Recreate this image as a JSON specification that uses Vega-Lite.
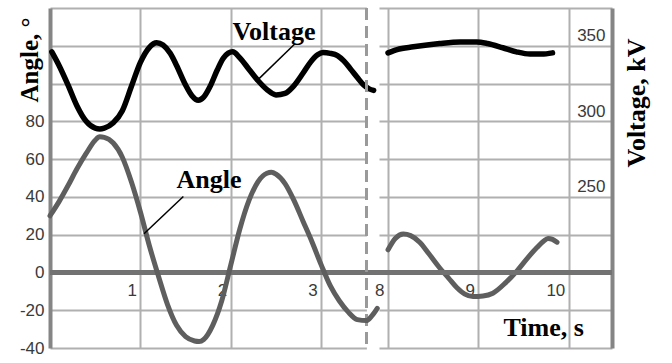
{
  "$schema": "https://vega.github.io/schema/vega-lite/v6.json",
  "width": 562,
  "height": 340,
  "autosize": "none",
  "padding": {"left": 50, "top": 8, "right": 60, "bottom": 15},
  "background": "white",
  "config": {
    "view": {"stroke": null},
    "axis": {
      "labelFont": "Liberation Sans", "labelFontSize": 17, "labelColor": "#3a3a3a",
      "titleFont": "Liberation Serif", "titleFontWeight": "bold", "titleFontSize": 25, "titleColor": "#000000",
      "tickSize": 0, "ticks": false, "gridColor": "#b0b0b0", "gridWidth": 2, "gridOpacity": 1,
      "domainColor": "#858585", "domainWidth": 4, "labelFlush": false, "labelOverlap": false
    }
  },
  "datasets": {
    "angleL": [
      {"t": 0.0, "angle": 30}, {"t": 0.1, "angle": 37.5}, {"t": 0.2, "angle": 46}, {"t": 0.3, "angle": 55},
      {"t": 0.4, "angle": 63}, {"t": 0.5, "angle": 70}, {"t": 0.55, "angle": 71.8}, {"t": 0.6, "angle": 71.5},
      {"t": 0.7, "angle": 68.5}, {"t": 0.8, "angle": 61}, {"t": 0.9, "angle": 48}, {"t": 1.0, "angle": 32},
      {"t": 1.1, "angle": 14}, {"t": 1.2, "angle": -2}, {"t": 1.3, "angle": -17}, {"t": 1.4, "angle": -28},
      {"t": 1.5, "angle": -34}, {"t": 1.6, "angle": -36.3}, {"t": 1.65, "angle": -36.6}, {"t": 1.7, "angle": -35.5},
      {"t": 1.8, "angle": -28}, {"t": 1.9, "angle": -15}, {"t": 2.0, "angle": 4}, {"t": 2.1, "angle": 23},
      {"t": 2.2, "angle": 38}, {"t": 2.3, "angle": 48}, {"t": 2.4, "angle": 52.5}, {"t": 2.45, "angle": 53},
      {"t": 2.5, "angle": 52}, {"t": 2.6, "angle": 47}, {"t": 2.7, "angle": 38}, {"t": 2.8, "angle": 27},
      {"t": 2.9, "angle": 16}, {"t": 3.0, "angle": 4}, {"t": 3.1, "angle": -7}, {"t": 3.2, "angle": -15},
      {"t": 3.3, "angle": -21}, {"t": 3.4, "angle": -25}, {"t": 3.5, "angle": -25.5}, {"t": 3.56, "angle": -23},
      {"t": 3.62, "angle": -19}
    ],
    "voltL": [
      {"t": 0.02, "voltage": 346}, {"t": 0.1, "voltage": 337}, {"t": 0.2, "voltage": 324}, {"t": 0.3, "voltage": 310},
      {"t": 0.4, "voltage": 300}, {"t": 0.5, "voltage": 295.5}, {"t": 0.55, "voltage": 295}, {"t": 0.6, "voltage": 295.5},
      {"t": 0.7, "voltage": 299}, {"t": 0.8, "voltage": 307}, {"t": 0.9, "voltage": 323}, {"t": 1.0, "voltage": 339},
      {"t": 1.1, "voltage": 349}, {"t": 1.18, "voltage": 352}, {"t": 1.25, "voltage": 350.5}, {"t": 1.33, "voltage": 345},
      {"t": 1.4, "voltage": 337}, {"t": 1.5, "voltage": 324}, {"t": 1.57, "voltage": 317}, {"t": 1.64, "voltage": 314},
      {"t": 1.7, "voltage": 316}, {"t": 1.77, "voltage": 323}, {"t": 1.85, "voltage": 334}, {"t": 1.92, "voltage": 342},
      {"t": 2.02, "voltage": 346}, {"t": 2.1, "voltage": 342}, {"t": 2.2, "voltage": 334.5}, {"t": 2.3, "voltage": 327},
      {"t": 2.4, "voltage": 321}, {"t": 2.5, "voltage": 317.5}, {"t": 2.6, "voltage": 318.5}, {"t": 2.69, "voltage": 323},
      {"t": 2.8, "voltage": 332}, {"t": 2.88, "voltage": 339}, {"t": 2.96, "voltage": 344}, {"t": 3.02, "voltage": 345.5},
      {"t": 3.1, "voltage": 345}, {"t": 3.18, "voltage": 343.5}, {"t": 3.25, "voltage": 340}, {"t": 3.32, "voltage": 335},
      {"t": 3.4, "voltage": 329}, {"t": 3.47, "voltage": 324}, {"t": 3.53, "voltage": 321.5}, {"t": 3.58, "voltage": 320.5}
    ],
    "angleR": [
      {"t": 8.0, "angle": 12}, {"t": 8.08, "angle": 18}, {"t": 8.17, "angle": 20.3}, {"t": 8.25, "angle": 19.5},
      {"t": 8.35, "angle": 16}, {"t": 8.45, "angle": 10}, {"t": 8.57, "angle": 2.5}, {"t": 8.67, "angle": -3},
      {"t": 8.76, "angle": -8}, {"t": 8.85, "angle": -11.5}, {"t": 8.94, "angle": -12.8}, {"t": 9.05, "angle": -12.5},
      {"t": 9.16, "angle": -11}, {"t": 9.3, "angle": -5.5}, {"t": 9.43, "angle": 1}, {"t": 9.55, "angle": 8},
      {"t": 9.65, "angle": 13.3}, {"t": 9.72, "angle": 16.5}, {"t": 9.77, "angle": 18}, {"t": 9.82, "angle": 17.5},
      {"t": 9.87, "angle": 16}
    ],
    "voltR": [
      {"t": 8.0, "voltage": 345.3}, {"t": 8.1, "voltage": 347.5}, {"t": 8.28, "voltage": 349.3}, {"t": 8.57, "voltage": 351.5},
      {"t": 8.8, "voltage": 352.5}, {"t": 8.98, "voltage": 352.5}, {"t": 9.1, "voltage": 351.5}, {"t": 9.27, "voltage": 348.7},
      {"t": 9.42, "voltage": 346}, {"t": 9.57, "voltage": 344.5}, {"t": 9.7, "voltage": 344.5}, {"t": 9.82, "voltage": 345.3}
    ],
    "notes": [
      {"t": 2.478, "angle": 123.3, "label": "Voltage"},
      {"t": 1.759, "angle": 44.6, "label": "Angle"}
    ],
    "leaders": [
      {"t": 2.304, "angle": 102.2, "t2": 2.71, "angle2": 121.1},
      {"t": 1.04, "angle": 20.5, "t2": 1.475, "angle2": 40.2}
    ]
  },
  "layer": [
    {
      "data": {"name": "voltL"},
      "mark": {"type": "line", "color": "#000000", "strokeWidth": 5.5, "interpolate": "monotone", "strokeCap": "round"},
      "encoding": {
        "x": {"field": "t", "type": "quantitative",
          "scale": {"domain": [0, 3.5], "range": [0, 316.4], "nice": false, "zero": false},
          "axis": {"orient": "bottom", "values": [1, 2, 3], "offset": -75.6, "grid": false, "domain": false,
            "labelOverlap": false, "labelFontSize": 17,
            "labelAlign": "right", "labelOffset": -4, "labelPadding": 10, "title": null}},
        "y": {"field": "voltage", "type": "quantitative",
          "scale": {"domain": [150, 375], "nice": false, "zero": false},
          "axis": {"orient": "left", "values": [150, 175, 200, 225, 250, 275, 300, 325, 350, 375], "grid": true,
            "labels": false, "domain": false, "title": null}}
      }
    },
    {
      "data": {"name": "angleR"},
      "mark": {"type": "line", "color": "#5e5e5e", "strokeWidth": 5, "interpolate": "monotone", "strokeCap": "round"},
      "encoding": {
        "x": {"field": "t", "type": "quantitative",
          "scale": {"domain": [7.9, 10.478], "range": [329, 562], "nice": false, "zero": false},
          "axis": {"orient": "bottom", "values": [8, 9, 10], "grid": true, "labels": false, "domain": false,
            "title": "Time, s", "titleFontSize": 26, "titleX": 453, "titleY": -13, "titleAlign": "left", "titleBaseline": "alphabetic"}},
        "y": {"field": "angle", "type": "quantitative",
          "scale": {"domain": [-40, 140], "nice": false, "zero": false},
          "axis": {"orient": "left", "values": [-40, -20, 0, 20, 40, 60, 80, 100, 120, 140],
            "labelExpr": "datum.value > 80 ? '' : '' + datum.value",
            "labelOverlap": false, "labelBound": false, "labelFontSize": 17,
            "grid": true, "labelPadding": 6,
            "title": "Angle, °", "titleAngle": 270, "titleAlign": "left", "titleBaseline": "alphabetic",
            "titleX": -13, "titleY": 94}}
      }
    },
    {
      "layer": [
        {
          "data": {"name": "angleL"},
          "mark": {"type": "rule", "color": "#727272", "strokeWidth": 4.5},
          "encoding": {
            "y": {"datum": 0, "type": "quantitative", "axis": null}
          }
        },
        {
          "data": {"name": "angleL"},
          "mark": {"type": "rule", "color": "#9a9a9a", "strokeWidth": 1.5, "strokeDash": [12, 6]},
          "encoding": {
            "x": {"datum": 3.5, "type": "quantitative"}
          }
        },
        {
          "data": {"name": "angleL"},
          "mark": {"type": "line", "color": "#5e5e5e", "strokeWidth": 5, "interpolate": "monotone", "strokeCap": "round"},
          "encoding": {
            "x": {"field": "t", "type": "quantitative",
              "scale": {"domain": [0, 3.5], "range": [0, 316.4], "nice": false, "zero": false},
              "axis": {"orient": "bottom", "values": [1, 2, 3], "grid": true, "labels": false, "domain": false, "title": null}},
            "y": {"field": "angle", "type": "quantitative",
              "scale": {"domain": [-40, 140], "nice": false, "zero": false}, "axis": null}
          }
        },
        {
          "data": {"name": "leaders"},
          "mark": {"type": "rule", "color": "#000000", "strokeWidth": 1.5},
          "encoding": {
            "x": {"field": "t", "type": "quantitative"},
            "x2": {"field": "t2"},
            "y": {"field": "angle", "type": "quantitative", "axis": null},
            "y2": {"field": "angle2"}
          }
        },
        {
          "data": {"name": "notes"},
          "mark": {"type": "text", "font": "Liberation Serif", "fontWeight": "bold", "fontSize": 26, "color": "#000000", "align": "center", "baseline": "alphabetic"},
          "encoding": {
            "x": {"field": "t", "type": "quantitative"},
            "y": {"field": "angle", "type": "quantitative", "axis": null},
            "text": {"field": "label"}
          }
        }
      ]
    },
    {
      "data": {"name": "voltR"},
      "mark": {"type": "line", "color": "#000000", "strokeWidth": 5.5, "interpolate": "monotone", "strokeCap": "round"},
      "encoding": {
        "x": {"field": "t", "type": "quantitative",
          "scale": {"domain": [7.9, 10.478], "range": [329, 562], "nice": false, "zero": false},
          "axis": {"orient": "bottom", "values": [8, 9, 10], "offset": -75.6, "grid": false, "domain": false,
            "labelOverlap": false, "labelFontSize": 17,
            "labelAlign": "right", "labelOffset": -4, "labelPadding": 10, "title": null}},
        "y": {"field": "voltage", "type": "quantitative",
          "scale": {"domain": [150, 375], "nice": false, "zero": false},
          "axis": {"orient": "right", "values": [250, 300, 350], "grid": false, "labelOverlap": false, "labelFontSize": 17,
            "labelAlign": "right", "labelPadding": -7, "labelBaseline": "bottom", "labelOffset": -1,
            "title": "Voltage, kV", "titleFontSize": 26, "titleAngle": 270, "titleAlign": "left", "titleBaseline": "alphabetic",
            "titleX": 32, "titleY": 159}}
      }
    }
  ],
  "resolve": {"scale": {"x": "independent", "y": "independent"}}
}
